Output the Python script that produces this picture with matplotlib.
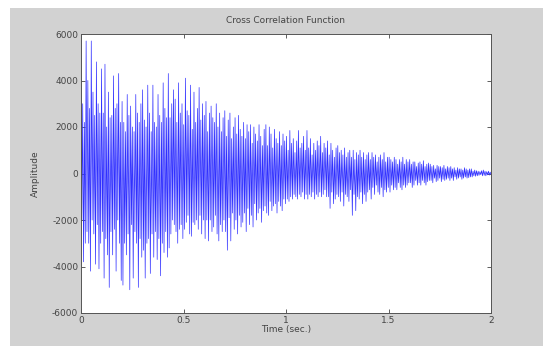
import numpy as np
import matplotlib
matplotlib.use("Agg")
import matplotlib.pyplot as plt
from matplotlib.patches import Rectangle

# Extremes of the cross-correlation (alternating peaks/troughs),
# 24 values per 0.1 s
amplitude = [
    5900, -2000, 3000, -3800, 2200, -3000, 5700, -2500, 4000, -3000, 2800, -4200, 5700, -2000, 3500, -2600, 2500, -3900, 4800, -2200, 3000, -4100, 2600, -3000,
    4500, -2500, 2600, -4500, 4700, -2800, 2000, -3500, 3500, -4900, 2400, -2500, 2500, -3500, 4200, -2400, 2800, -4200, 3000, -2000, 4300, -3000, 2200, -4600,
    3100, -4800, 2200, -3000, 1800, -3500, 3400, -2600, 2500, -5000, 2900, -2200, 2000, -4500, 1800, -2500, 3400, -3000, 2600, -4900, 2200, -2800, 3000, -3600,
    3600, -3300, 2300, -4500, 2000, -3000, 3800, -2800, 2600, -4300, 1800, -2600, 3800, -3600, 2200, -2500, 2000, -3700, 3400, -2800, 2500, -4400, 2200, -3000,
    3900, -3400, 2800, -2500, 2400, -3600, 4300, -3200, 2400, -2600, 3000, -2000, 3600, -2200, 3200, -2500, 2200, -3000, 3900, -2400, 2600, -2200, 3000, -2800,
    2100, -2400, 4100, -2100, 2700, -1800, 2500, -2600, 3800, -2700, 1900, -2100, 3500, -2200, 2200, -2000, 2800, -2400, 3700, -1800, 2300, -2600, 3000, -2000,
    2500, -2800, 3100, -2000, 1800, -2900, 2600, -2000, 2900, -2500, 2400, -2300, 2200, -1800, 3000, -2600, 2000, -2900, 2600, -2200, 1800, -2500, 2400, -2000,
    2700, -2500, 1600, -3300, 2300, -1900, 2600, -2900, 1500, -1700, 2000, -2400, 2400, -2000, 1700, -2600, 2500, -1800, 1900, -2300, 1600, -2100, 2200, -1700,
    1500, -2500, 2100, -1500, 1800, -2200, 2100, -1800, 1300, -2300, 2000, -1300, 1700, -2000, 1400, -1700, 2100, -1500, 1600, -2100, 1200, -1600, 1900, -1400,
    2100, -1700, 1200, -1800, 2000, -1200, 1700, -1600, 1100, -1400, 1900, -1300, 1500, -1700, 1300, -1200, 1800, -1400, 1200, -1600, 1700, -1100, 1400, -1300,
    1600, -1100, 1000, -1200, 1850, -1000, 1300, -1100, 1500, -900, 900, -1000, 1400, -1100, 1850, -900, 1100, -1000, 1300, -800, 1600, -1100, 1000, -900,
    1850, -1100, 1100, -900, 1500, -1000, 800, -800, 1300, -1100, 1000, -900, 1400, -1000, 1200, -800, 1600, -1000, 900, -900, 1300, -700, 1100, -1000,
    1400, -1000, 800, -1500, 1300, -800, 1000, -1300, 700, -1100, 1100, -900, 1200, -1000, 900, -1200, 1000, -800, 800, -1400, 1100, -900, 700, -1000,
    900, -1200, 1000, -700, 700, -1800, 1000, -900, 600, -1600, 900, -1000, 800, -1100, 1000, -800, 700, -1300, 900, -900, 600, -1200, 800, -800,
    900, -700, 600, -1100, 900, -600, 700, -900, 800, -500, 500, -800, 700, -900, 800, -600, 600, -1000, 900, -700, 500, -800, 700, -600,
    700, -800, 600, -500, 500, -700, 700, -600, 600, -700, 400, -400, 600, -600, 500, -700, 700, -500, 400, -600, 600, -500, 500, -400,
    600, -400, 400, -600, 500, -500, 500, -300, 300, -500, 450, -400, 500, -500, 400, -300, 550, -400, 300, -500, 400, -350, 450, -300,
    400, -300, 300, -400, 350, -200, 200, -350, 350, -300, 300, -200, 300, -350, 250, -250, 350, -300, 200, -250, 300, -200, 250, -300,
    300, -200, 200, -300, 250, -150, 150, -250, 250, -200, 200, -150, 200, -250, 150, -200, 250, -150, 200, -200, 150, -180, 200, -150,
    200, -150, 100, -100, 150, -120, 120, -100, 100, -80, 80, -50, 120, -100, 150, -80, 100, -100, 80, -60, 100, -70, 60, -50,
]
t_start, t_end = 0.0, 2.0
x_ticks = [0, 0.5, 1, 1.5, 2]
x_tick_labels = ["0", "0.5", "1", "1.5", "2"]
y_ticks = [-6000, -4000, -2000, 0, 2000, 4000, 6000]
y_tick_labels = ["-6000", "-4000", "-2000", "0", "2000", "4000", "6000"]

time = np.linspace(t_start, t_end, len(amplitude))

fig = plt.figure(figsize=(5.43, 3.46), dpi=100, facecolor="white")
fig.patches.append(Rectangle((10 / 543, 0), 1, 1 - 8 / 346, transform=fig.transFigure,
                             facecolor="#d2d2d2", edgecolor="none", zorder=-10))
ax = fig.add_axes([81 / 543, 1 - 313 / 346, 410 / 543, 279 / 346])
ax.set_facecolor("white")
ax.plot(time, amplitude, color="#3030ff", linewidth=0.5)

ax.set_xlim(0, 2)
ax.set_ylim(-6000, 6000)
ax.set_xticks(x_ticks)
ax.set_xticklabels(x_tick_labels)
ax.set_yticks(y_ticks)
ax.set_yticklabels(y_tick_labels)
ax.tick_params(direction="in", length=3, width=0.6, top=True, right=True,
               labelsize=6.5, colors="#444444", pad=2)
for s in ax.spines.values():
    s.set_color("#555555")
    s.set_linewidth(0.7)
ax.set_title("Cross Correlation Function", fontsize=6.5, color="#444444", pad=8)
ax.set_xlabel("Time (sec.)", fontsize=6.5, color="#444444", labelpad=0)
ax.set_ylabel("Amplitude", fontsize=6.5, color="#444444", labelpad=9)

fig.savefig("out.png", dpi=100, facecolor=fig.get_facecolor())
